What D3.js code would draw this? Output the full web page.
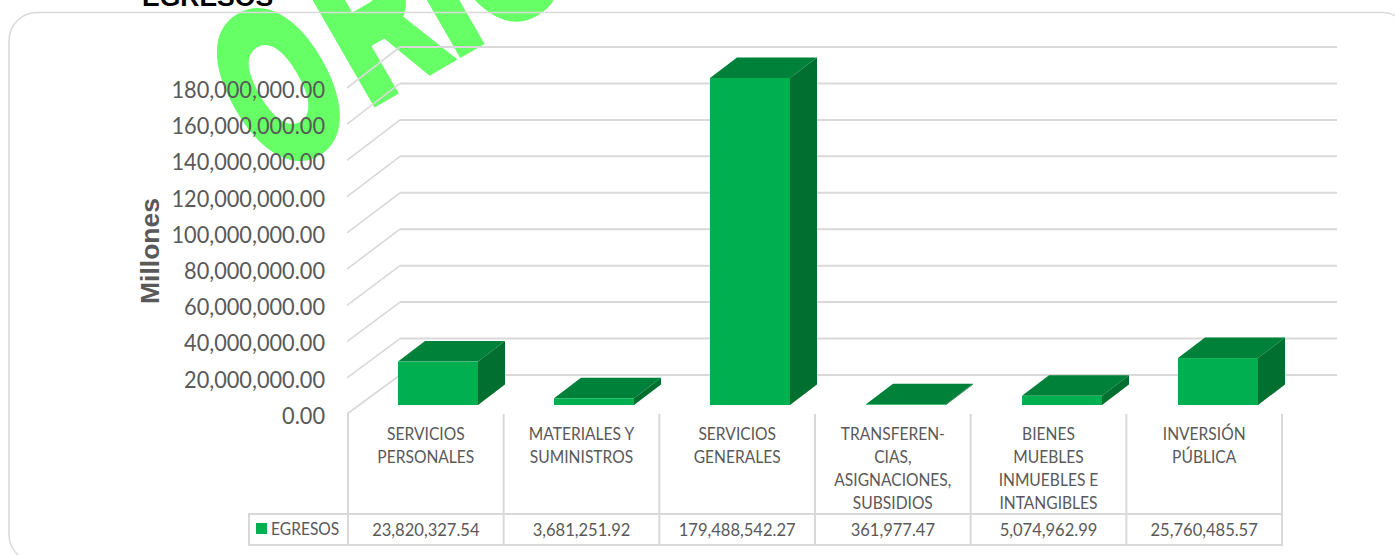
<!DOCTYPE html>
<html>
<head>
<meta charset="utf-8">
<script src="https://cdn.jsdelivr.net/npm/d3@7"></script>
<style>
html, body { margin: 0; padding: 0; background: #fff; overflow: hidden; }
text { font-family: Lato, sans-serif; fill: #595959; }
</style>
</head>
<body>
<div id="chart"></div>
<script>
const categories = ['SERVICIOS PERSONALES', 'MATERIALES Y SUMINISTROS', 'SERVICIOS GENERALES', 'TRANSFEREN-CIAS, ASIGNACIONES, SUBSIDIOS', 'BIENES MUEBLES INMUEBLES E INTANGIBLES', 'INVERSIÓN PÚBLICA'];
const categoryLines = [
	['SERVICIOS', 'PERSONALES'],
	['MATERIALES Y', 'SUMINISTROS'],
	['SERVICIOS', 'GENERALES'],
	['TRANSFEREN-', 'CIAS,', 'ASIGNACIONES,', 'SUBSIDIOS'],
	['BIENES', 'MUEBLES', 'INMUEBLES E', 'INTANGIBLES'],
	['INVERSIÓN', 'PÚBLICA']
];
const egresos = [23820327.54, 3681251.92, 179488542.27, 361977.47, 5074962.99, 25760485.57];
const yTicks = [0, 20000000, 40000000, 60000000, 80000000, 100000000, 120000000, 140000000, 160000000, 180000000];
const seriesName = 'EGRESOS';
const watermark = 'ORIGINAL';

const width = 1395;
const height = 555;
const fmt = d3.format(',.2f');
const narrow = 0.945; // lato is wider than the calibri of the original

const svg = d3.select('#chart').append('svg')
	.attr('width', width)
	.attr('height', height)
	.style('display', 'block');

// scales
const yFront = d3.scaleLinear().domain([0, 180000000]).range([414, 88]);
const yBack = d3.scaleLinear().domain([0, 180000000]).range([375, 47]);
const yBar = d3.scaleLinear().domain([0, 180000000]).range([405, 77]);
const xCol = d3.scaleBand().domain(categories).range([348, 1282]);
const xBar = d3.scalePoint().domain(categories).range([398, 1178]);
const barW = 80;
const depthX = 27;
const depthY = -20.5;

// watermark goes behind all the rest
let mark = svg.append('text')
	.attr('transform', 'translate(265,162) rotate(-30) scale(0.62,1)')
	.style('font-family', '"Liberation Sans"')
	.style('font-weight', 700)
	.style('font-size', '210px')
	.style('letter-spacing', '8px')
	.style('fill', '#66ff66')
	.style('stroke', '#66ff66')
	.style('stroke-width', 15);

// the O sits a bit lower than the other letters in the original
mark.append('tspan').attr('dy', 12).text(watermark.slice(0, 1));
mark.append('tspan').attr('dx', 19).attr('dy', -12).text(watermark.slice(1));

// title, cut by the top of the page
svg.append('text')
	.text(seriesName)
	.attr('x', 142)
	.attr('y', 6)
	.style('font-family', '"Liberation Sans"')
	.style('font-weight', 700)
	.style('font-size', '26.5px')
	.style('fill', '#000');

// outer rounded border
svg.append('rect')
	.attr('x', 9)
	.attr('y', 12.5)
	.attr('width', 1401)
	.attr('height', 550)
	.attr('rx', 28)
	.attr('fill', 'none')
	.attr('stroke', '#d9d9d9')
	.attr('stroke-width', 1.5);

// back wall and side wall lines
const grid = svg.append('g').attr('fill', 'none').attr('stroke', '#d9d9d9');

grid.selectAll('.back')
	.data(yTicks)
	.enter()
	.append('line')
	.attr('class', 'back')
	.attr('x1', 400)
	.attr('x2', 1337)
	.attr('y1', d => yBack(d))
	.attr('y2', d => yBack(d))
	.attr('stroke-width', 2);

grid.selectAll('.side')
	.data(yTicks)
	.enter()
	.append('line')
	.attr('class', 'side')
	.attr('x1', 347)
	.attr('x2', 400)
	.attr('y1', d => yFront(d))
	.attr('y2', d => yBack(d))
	.attr('stroke-width', 1.6);

// y axis
const yAxis = d3.axisLeft(yFront)
	.tickValues(yTicks)
	.tickFormat(fmt)
	.tickSize(0)
	.tickPadding(0);

const yG = svg.append('g')
	.attr('transform', 'translate(325,2)')
	.call(yAxis);

yG.select('.domain').remove();
yG.selectAll('text')
	.attr('x', 0)
	.attr('transform', `scale(${narrow},1)`)
	.style('font-family', 'Lato')
	.style('font-size', '23px')
	.style('fill', '#595959');

svg.append('text')
	.text('Millones')
	.attr('transform', 'translate(159,251) rotate(-90)')
	.attr('text-anchor', 'middle')
	.style('font-family', '"Liberation Sans"')
	.style('font-weight', 700)
	.style('font-size', '26.5px');

// bars, each one a front, a top and a side
const bars = svg.selectAll('.bar')
	.data(egresos)
	.enter()
	.append('g')
	.attr('class', 'bar');

bars.append('polygon')
	.attr('fill', '#00813a')
	.attr('points', (d, i) => {
		let x = xBar(categories[i]);
		let y = yBar(d);
		return [[x, y], [x + barW, y], [x + barW + depthX, y + depthY], [x + depthX, y + depthY]].join(' ');
	});

bars.append('polygon')
	.attr('fill', '#006f2f')
	.attr('points', (d, i) => {
		let x = xBar(categories[i]) + barW;
		let y = yBar(d);
		return [[x, y], [x + depthX, y + depthY], [x + depthX, yBar(0) + depthY], [x, yBar(0)]].join(' ');
	});

bars.append('rect')
	.attr('fill', '#00b050')
	.attr('x', (d, i) => xBar(categories[i]))
	.attr('y', d => yBar(d))
	.attr('width', barW)
	.attr('height', d => yBar(0) - yBar(d));

// data table under the chart
const tableTop = 514;
const tableBottom = 545;
const table = svg.append('g').attr('stroke', '#d9d9d9').attr('stroke-width', 2);

table.selectAll('.col')
	.data(categories.concat(['end']))
	.enter()
	.append('line')
	.attr('class', 'col')
	.attr('x1', (d, i) => xCol.range()[0] + i * xCol.step())
	.attr('x2', (d, i) => xCol.range()[0] + i * xCol.step())
	.attr('y1', 414)
	.attr('y2', tableBottom);

[tableTop, tableBottom].forEach(y => {
	table.append('line').attr('x1', 249).attr('x2', 1283).attr('y1', y).attr('y2', y);
});
table.append('line').attr('x1', 249).attr('x2', 249).attr('y1', tableTop - 1).attr('y2', tableBottom + 1);

const catLabels = svg.selectAll('.cat')
	.data(categories)
	.enter()
	.append('g')
	.attr('class', 'cat')
	.attr('transform', d => `translate(${xCol(d) + xCol.bandwidth() / 2},0) scale(${narrow},1)`);

catLabels.selectAll('text')
	.data((d, i) => categoryLines[i])
	.enter()
	.append('text')
	.text(d => d)
	.attr('text-anchor', 'middle')
	.attr('y', (d, i) => 440.5 + i * 23)
	.style('font-size', '16.5px');

svg.selectAll('.val')
	.data(egresos)
	.enter()
	.append('text')
	.attr('class', 'val')
	.text(d => fmt(d))
	.attr('text-anchor', 'middle')
	.attr('transform', (d, i) => `translate(${xCol(categories[i]) + xCol.bandwidth() / 2},536) scale(${narrow},1)`)
	.style('font-size', '17.5px');

svg.append('rect')
	.attr('x', 256)
	.attr('y', 523)
	.attr('width', 11)
	.attr('height', 11)
	.attr('fill', '#00b050');

svg.append('text')
	.text(seriesName)
	.attr('transform', `translate(271,535) scale(${narrow},1)`)
	.style('font-size', '16.5px');
</script>
</body>
</html>
